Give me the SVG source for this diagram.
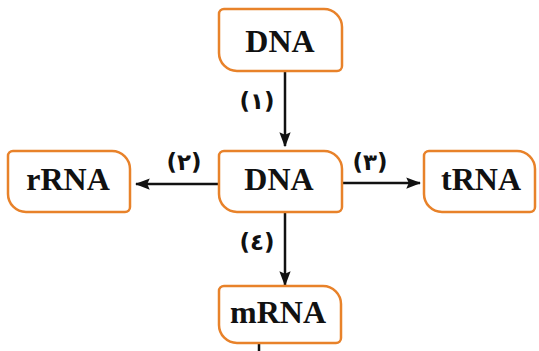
<svg xmlns="http://www.w3.org/2000/svg" width="539" height="351" viewBox="0 0 539 351">
<defs>
<style>
.box{fill:#fff;stroke:#E8822A;stroke-width:2.5}
.t{font-family:"Liberation Serif",serif;font-weight:bold;font-size:32px;fill:#111;text-anchor:middle}
.n{font-family:"DejaVu Sans",sans-serif;font-weight:bold;font-size:23px;fill:#111;text-anchor:middle}
.ln{stroke:#111;stroke-width:2.5;fill:none}
</style>
<marker id="ah" viewBox="0 0 12 10" refX="11" refY="5" markerWidth="6" markerHeight="5" orient="auto" markerUnits="strokeWidth">
<path d="M0,0.5 L12,5 L0,9.5 L2,5 z" fill="#111"/>
</marker>
</defs>
<rect width="539" height="351" fill="#fff"/>
<g id="connectors">
<line class="ln" x1="285" y1="72" x2="285" y2="146" marker-end="url(#ah)"/>
<line class="ln" x1="218" y1="184" x2="136" y2="184" marker-end="url(#ah)"/>
<line class="ln" x1="342" y1="183" x2="420" y2="183" marker-end="url(#ah)"/>
<line class="ln" x1="285" y1="213" x2="285" y2="285" marker-end="url(#ah)"/>
<line class="ln" x1="259" y1="344" x2="259" y2="351"/>
<text class="n" x="257" y="109">(١)</text>
<text class="n" x="184" y="170">(٢)</text>
<text class="n" x="370" y="170">(٣)</text>
<text class="n" x="257" y="250">(٤)</text>
</g>
<g id="dna-top">
<path class="box" d="M224,9 H324 A18,18 0 0 1 342,27 V66 A5,5 0 0 1 337,71 H237 A18,18 0 0 1 219,53 V14 A5,5 0 0 1 224,9 Z"/>
<text class="t" x="280" y="52">DNA</text>
</g>
<g id="dna-mid">
<path class="box" d="M224,151 H324 A18,18 0 0 1 342,169 V207 A5,5 0 0 1 337,212 H237 A18,18 0 0 1 219,194 V156 A5,5 0 0 1 224,151 Z"/>
<text class="t" x="279" y="190">DNA</text>
</g>
<g id="rrna">
<path class="box" d="M13,151 H112 A18,18 0 0 1 130,169 V207 A5,5 0 0 1 125,212 H26 A18,18 0 0 1 8,194 V156 A5,5 0 0 1 13,151 Z"/>
<text class="t" x="68" y="190">rRNA</text>
</g>
<g id="trna">
<path class="box" d="M429,151 H517 A18,18 0 0 1 535,169 V207 A5,5 0 0 1 530,212 H442 A18,18 0 0 1 424,194 V156 A5,5 0 0 1 429,151 Z"/>
<text class="t" x="481" y="190">tRNA</text>
</g>
<g id="mrna">
<path class="box" d="M224,286 H323 A18,18 0 0 1 341,304 V338 A5,5 0 0 1 336,343 H237 A18,18 0 0 1 219,325 V291 A5,5 0 0 1 224,286 Z"/>
<text class="t" x="278" y="323">mRNA</text>
</g>
</svg>
